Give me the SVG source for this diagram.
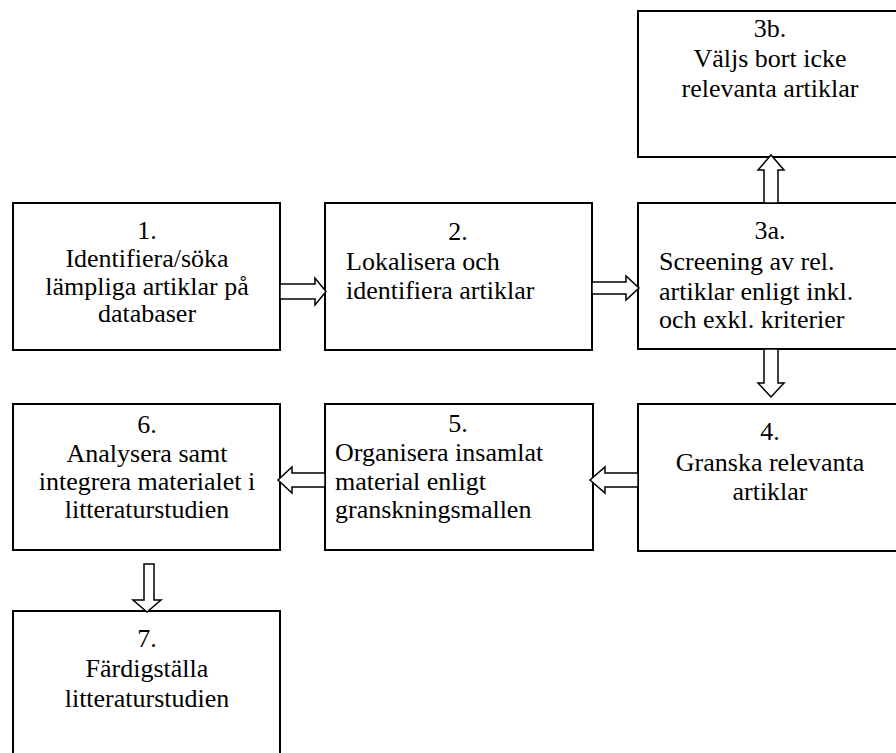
<svg xmlns="http://www.w3.org/2000/svg" width="896" height="753" viewBox="0 0 896 753">
<style>
.box{fill:#fff;stroke:#000;stroke-width:2}
.arr{fill:#fff;stroke:#000;stroke-width:1.5;stroke-linejoin:miter}
.t{font-family:'Liberation Serif','Times New Roman','DejaVu Serif',serif;font-size:26px;fill:#000}
.c{text-anchor:middle}
</style>
<rect width="896" height="753" fill="#fff"/>
<g class="t" font-family="Liberation Serif, serif">
<g id="n1"><rect class="box" x="13" y="203" width="267" height="147"/>
<text class="c" x="147" y="239">1.</text>
<text class="c" x="147" y="267">Identifiera/söka</text>
<text class="c" x="147" y="295">lämpliga artiklar på</text>
<text class="c" x="147" y="322">databaser</text></g>
<g id="n2"><rect class="box" x="325" y="203" width="267" height="147"/>
<text class="c" x="458" y="240">2.</text>
<text x="346" y="270">Lokalisera och</text>
<text x="346" y="299">identifiera artiklar</text></g>
<g id="n3a"><rect class="box" x="638" y="203" width="266" height="146"/>
<text class="c" x="770" y="239">3a.</text>
<text x="659" y="270">Screening av rel.</text>
<text x="659" y="300">artiklar enligt inkl.</text>
<text x="659" y="328">och exkl. kriterier</text></g>
<g id="n3b"><rect class="box" x="638" y="11" width="266" height="146"/>
<text class="c" x="770" y="37">3b.</text>
<text class="c" x="770" y="67">Väljs bort icke</text>
<text class="c" x="770" y="97">relevanta artiklar</text></g>
<g id="n4"><rect class="box" x="638" y="404" width="266" height="147"/>
<text class="c" x="770" y="440">4.</text>
<text class="c" x="770" y="471">Granska relevanta</text>
<text class="c" x="770" y="500">artiklar</text></g>
<g id="n5"><rect class="box" x="325" y="404" width="268" height="146"/>
<text class="c" x="458" y="432">5.</text>
<text x="335" y="461">Organisera insamlat</text>
<text x="335" y="490">material enligt</text>
<text x="335" y="518">granskningsmallen</text></g>
<g id="n6"><rect class="box" x="13" y="404" width="267" height="146"/>
<text class="c" x="147" y="433">6.</text>
<text class="c" x="147" y="462">Analysera samt</text>
<text class="c" x="147" y="490">integrera materialet i</text>
<text class="c" x="147" y="518">litteraturstudien</text></g>
<g id="n7"><rect class="box" x="13" y="611" width="267" height="160"/>
<text class="c" x="147" y="647">7.</text>
<text class="c" x="147" y="677">Färdigställa</text>
<text class="c" x="147" y="707">litteraturstudien</text></g>
</g>
<g id="connectors">
<polygon class="arr" points="280,284 315,284 315,278 326,291.5 315,305 315,299 280,299"/>
<polygon class="arr" points="592,282 626,282 626,276 639,288 626,300 626,294 592,294"/>
<polygon class="arr" points="764,203 764,170 758,170 771,155 784,170 778,170 778,203"/>
<polygon class="arr" points="764,349 764,383 758,383 771,397 784,383 778,383 778,349"/>
<polygon class="arr" points="638,473 605,473 605,467 590,480 605,493 605,487 638,487"/>
<polygon class="arr" points="325,473 292,473 292,467 278,480 292,493 292,487 325,487"/>
<polygon class="arr" points="144,564 144,600 133,600 147,612 161,600 154,600 154,564"/>
</g>
</svg>
